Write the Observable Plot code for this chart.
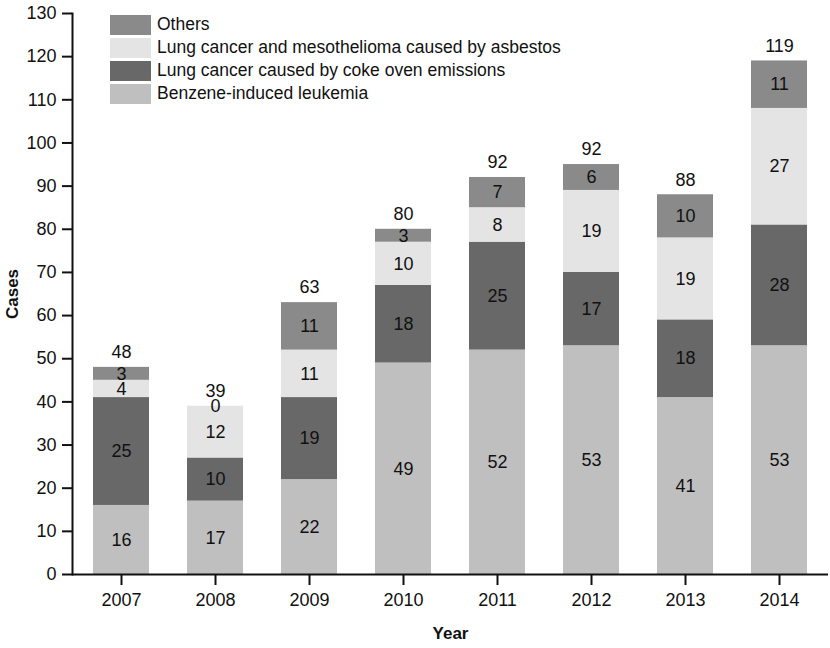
<!DOCTYPE html>
<html>
<head>
<meta charset="utf-8">
<script src="https://cdn.jsdelivr.net/npm/d3@7"></script>
<script src="https://cdn.jsdelivr.net/npm/@observablehq/plot@0.6"></script>
<style>
  html, body { margin: 0; padding: 0; background: #fff; }
  #wrap { position: relative; width: 830px; height: 648px; font-family: "Liberation Sans", Arial, sans-serif; }
  #legend { position: absolute; left: 110px; top: 13px; font-size: 17.5px; color: #111; }
  #legend .row { display: flex; align-items: center; height: 23px; }
  #legend .sw { width: 41px; height: 20px; margin-right: 6px; }
</style>
</head>
<body>
<div id="wrap"><div id="legend"></div></div>
<script>
const years = ["2007","2008","2009","2010","2011","2012","2013","2014"];
const causes = [
  "Benzene-induced leukemia",
  "Lung cancer caused by coke oven emissions",
  "Lung cancer and mesothelioma caused by asbestos",
  "Others"
];
const colors = ["#bfbfbf", "#686868", "#e4e4e4", "#8a8a8a"];
const benzene  = [16, 17, 22, 49, 52, 53, 41, 53];
const cokeOven = [25, 10, 19, 18, 25, 17, 18, 28];
const asbestos = [ 4, 12, 11, 10,  8, 19, 19, 27];
const others   = [ 3,  0, 11,  3,  7,  6, 10, 11];
const totalLabels = [48, 39, 63, 80, 92, 92, 88, 119];
const yTicks = [0,10,20,30,40,50,60,70,80,90,100,110,120,130];

const series = [benzene, cokeOven, asbestos, others];
const data = [];
years.forEach((yr, i) => {
  causes.forEach((c, k) => data.push({year: yr, cause: c, value: series[k][i]}));
});
const totals = years.map((yr, i) => ({
  year: yr,
  top: series.reduce((s, arr) => s + arr[i], 0),
  label: totalLabels[i]
}));

const chart = Plot.plot({
  width: 830,
  height: 648,
  marginLeft: 72,
  marginRight: 2,
  marginTop: 13,
  marginBottom: 74,
  style: {fontFamily: "'Liberation Sans', Arial, sans-serif", fontSize: "18px", color: "#111", background: "#fff"},
  x: {domain: years, paddingInner: 0.4, paddingOuter: 0.2},
  y: {domain: [0, 130]},
  color: {domain: causes, range: colors},
  marks: [
    Plot.barY(data, {x: "year", y: "value", fill: "cause"}),
    Plot.text(data, Plot.stackY({x: "year", y: "value", text: "value", fill: "#111", fontSize: 18})),
    Plot.text(totals, {x: "year", y: "top", text: "label", dy: -15, fill: "#111", fontSize: 18}),
    Plot.ruleY([0], {stroke: "#111", strokeWidth: 2}),
    Plot.frame({anchor: "left", stroke: "#111", strokeWidth: 2}),
    Plot.axisY({ticks: yTicks, tickSize: 10, tickPadding: 6, label: "Cases", labelAnchor: "center", labelOffset: 67, labelArrow: "none", fontSize: 18, strokeWidth: 2}),
    Plot.axisX({tickSize: 11, tickPadding: 8, label: "Year", labelAnchor: "center", labelOffset: 64, labelArrow: "none", fontSize: 18, strokeWidth: 2})
  ]
});
document.getElementById("wrap").prepend(chart);

// bold axis titles
d3.select(chart).selectAll("text").filter(function() {
  const t = this.textContent.trim();
  return t === "Cases" || t === "Year";
}).style("font-weight", "bold").style("font-size", "17px");

// legend (top to bottom: reverse stack order)
const legend = d3.select("#legend");
causes.slice().reverse().forEach((c) => {
  const k = causes.indexOf(c);
  const row = legend.append("div").attr("class", "row");
  row.append("div").attr("class", "sw").style("background", colors[k]);
  row.append("span").text(c);
});
</script>
</body>
</html>
